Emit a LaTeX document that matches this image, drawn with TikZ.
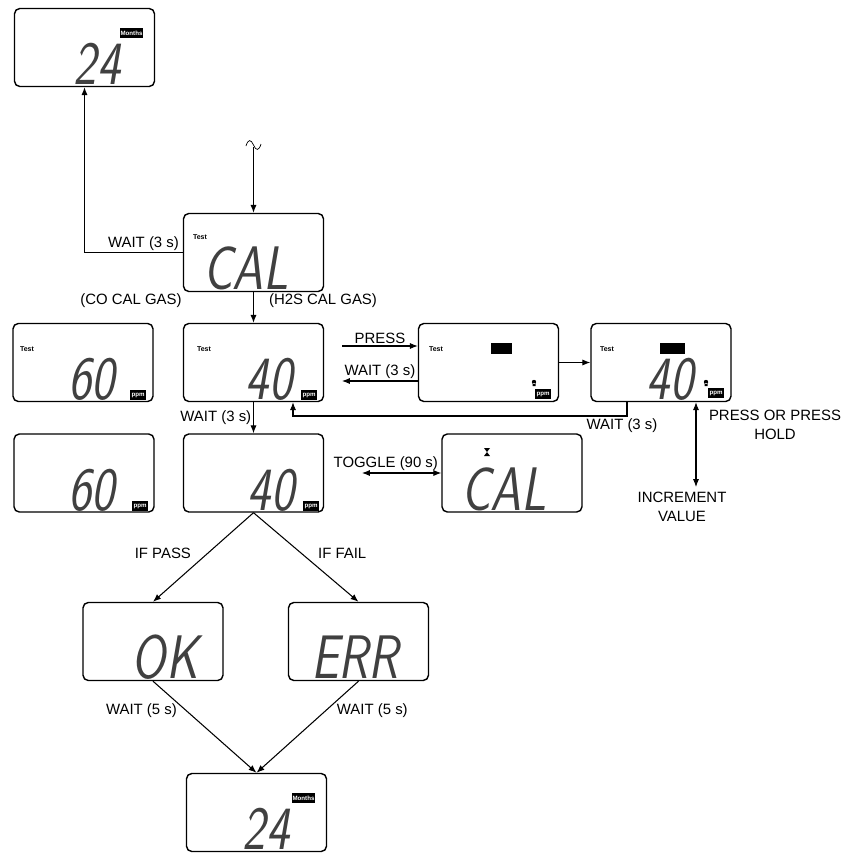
\documentclass[tikz,border=0pt]{standalone}
\usepackage{fontspec}
\newfontfamily\labelfont{Liberation Sans}
\usetikzlibrary{positioning,arrows.meta}
\newcommand{\lcdnum}[1]{\scalebox{0.8}[1]{\sffamily\slshape\fontsize{35}{35}\selectfont #1}}

\begin{document}
\begin{tikzpicture}[x=0.02cm, y=-0.02cm,
	lcd/.style = {draw, rounded corners=3pt, line width=0.8pt, minimum width=2.8cm, minimum height=1.56cm, inner sep=0pt},
	seg/.style = {anchor=base, text=black!75, inner sep=0pt, text depth=0pt},
	lbl/.style = {font=\labelfont\fontsize{8.5}{11}\selectfont, inner sep=1pt, align=center},
	tag/.style = {fill=black, text=white, font=\labelfont\bfseries\fontsize{3.5}{4}\selectfont, inner sep=0.6pt, minimum height=0.2cm},
	tst/.style = {font=\labelfont\bfseries\fontsize{4}{4}\selectfont, inner sep=0pt},
	arr/.style = {-{Latex[length=4.5pt,width=3.5pt]}, line width=0.6pt},
	dbl/.style = {{Latex[length=4.5pt,width=3.5pt]}-{Latex[length=4.5pt,width=3.5pt]}, line width=0.6pt}]
	\useasboundingbox (0,0) rectangle (845,853);
	% displays
	\node[lcd] (m1) at (84.5,47.5) {};
	\node[lcd] (cal) at (253.5,252.5) {};
	\node[lcd] (co) at (83,362.5) {};
	\node[lcd] (h2s) at (253.5,362.5) {};
	\node[lcd] (blank) at (488.5,362.5) {};
	\node[lcd] (adj) at (661,362.5) {};
	\node[lcd] (co2) at (84,473) {};
	\node[lcd] (h2s2) at (253.5,473) {};
	\node[lcd] (cal2) at (512,473) {};
	\node[lcd] (ok) at (153,641.5) {};
	\node[lcd] (err) at (358.5,641.5) {};
	\node[lcd] (m2) at (256.5,812.5) {};
	% segment readouts
	\node[seg] (m1v) at (97,84.5) {\lcdnum{24}};
	\node[seg] (calv) at (246,289) {\lcdnum{CAL}};
	\node[seg] (cov) at (92,399.5) {\lcdnum{60}};
	\node[seg] (h2sv) at (269,399.5) {\lcdnum{40}};
	\node[seg] (adjv) at (670,399.5) {\lcdnum{40}};
	\node[seg] (co2v) at (92,510) {\lcdnum{60}};
	\node[seg] (h2s2v) at (271,510) {\lcdnum{40}};
	\node[seg] (cal2v) at (504,510) {\lcdnum{CAL}};
	\node[seg] (okv) at (165,678.5) {\lcdnum{OK}};
	\node[seg] (errv) at (355,678.5) {\lcdnum{ERR}};
	\node[seg] (m2v) at (266,849) {\lcdnum{24}};
	% small indicators
	\node[tag] (m1t) at (131.5,33) {Months};
	\node[tag] (m2t) at (303.5,798) {Months};
	\node[tag] (cot) at (138,395) {ppm};
	\node[tag] (h2st) at (309,395) {ppm};
	\node[tag] (co2t) at (140,506) {ppm};
	\node[tag] (h2s2t) at (311,506) {ppm};
	\node[tag] (blankt) at (543,394) {ppm};
	\node[tag] (adjt) at (716,393) {ppm};
	\fill (491,343) rectangle (512,354);
	\fill (660,343) rectangle (685,354);
	\node[tst] (calk) at (200,237) {Test};
	\node[tst] (cok) at (27,349) {Test};
	\node[tst] (h2sk) at (204,349) {Test};
	\node[tst] (blankk) at (436,349) {Test};
	\node[tst] (adjk) at (607,349) {Test};
	\fill (534,382) circle (2.2) (532.5,383) rectangle (535.5,386);
	\fill (706,382) circle (2.2) (704.5,383) rectangle (707.5,386);
	\fill (484,448) -- (490,448) -- (484,456) -- (490,456) -- cycle;
	% flow
	\coordinate (top) at (253.5,147);
	\draw (246,146) .. controls (248,139) and (251,139) .. (253.5,145) .. controls (256,151) and (259,151) .. (261,144);
	\draw[arr] (top) -- (cal);
	\draw[arr] (cal) -| node[lbl, above, pos=0.2] {WAIT (3 s)} (m1);
	\draw[arr] (cal) -- (h2s);
	\node[lbl] (colbl) at (131,301) {(CO CAL GAS)};
	\node[lbl] (h2slbl) at (323,301) {(H2S CAL GAS)};
	\coordinate (p0) at (342,346);
	\draw[arr] (p0) -- node[lbl, above] {PRESS} (p0 -| blank.west);
	\coordinate (w0) at (342,381);
	\draw[arr] (w0 -| blank.west) -- node[lbl, above] {WAIT (3 s)} (w0);
	\draw[arr] (blank) -- (adj);
	\coordinate (r0) at (627,416);
	\coordinate (r1) at (293,416);
	\draw[arr] (r0 |- adj.south) -- (r0) -- node[lbl, below, pos=0.015] {WAIT (3 s)} (r1) -- (r1 |- h2s.south);
	\coordinate (inc) at (696,487);
	\draw[dbl] (inc |- adj.south) -- (inc);
	\node[lbl] (hold) at (775,425) {PRESS OR PRESS\\HOLD};
	\node[lbl] (incv) at (682,507) {INCREMENT\\VALUE};
	\draw[arr] (h2s) -- node[lbl, left] {WAIT (3 s)} (h2s2);
	\coordinate (t0) at (362,473);
	\draw[dbl] (t0) -- node[lbl, above, pos=0.3] {TOGGLE (90 s)} (cal2);
	\draw[arr] (h2s2.south) -- node[lbl, left=8pt, pos=0.46] {IF PASS} (ok.north);
	\draw[arr] (h2s2.south) -- node[lbl, right=8pt, pos=0.46] {IF FAIL} (err.north);
	\draw[arr] (ok.south) -- node[lbl, left=4pt, pos=0.32] {WAIT (5 s)} (m2.north);
	\draw[arr] (err.south) -- node[lbl, right=5pt, pos=0.32] {WAIT (5 s)} (m2.north);
\end{tikzpicture}
\end{document}
